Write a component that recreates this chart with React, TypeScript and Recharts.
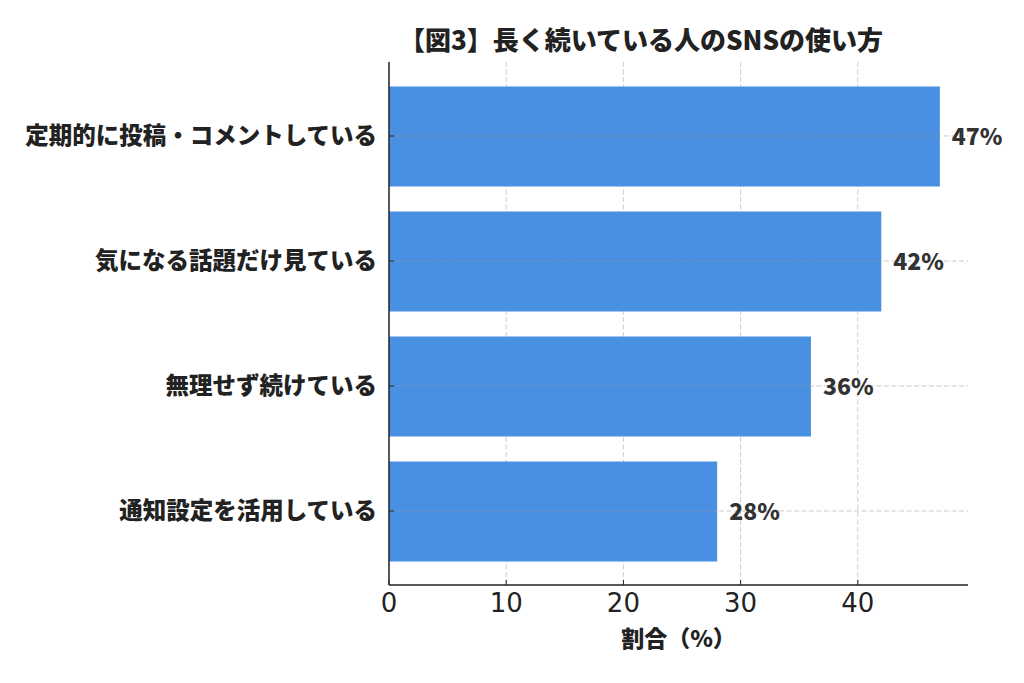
import React from "react";
import {
  BarChart,
  Bar,
  XAxis,
  YAxis,
  CartesianGrid,
  LabelList,
  Label,
  ReferenceLine,
} from "recharts";

const categories = [
  "定期的に投稿・コメントしている",
  "気になる話題だけ見ている",
  "無理せず続けている",
  "通知設定を活用している",
];
const values = [47, 42, 36, 28];
const xTicks = [0, 10, 20, 30, 40];
const title = "【図3】長く続いている人のSNSの使い方";
const xLabel = "割合（%）";

const data = categories.map((c, i) => ({ name: c, value: values[i] }));

const JP = '"Noto Sans CJK JP", "Noto Sans", sans-serif';
const gridStyle = { stroke: "#999", strokeOpacity: 0.5, strokeDasharray: "5 2.5" };

export default function App() {
  return (
    <div style={{ position: "absolute", left: 0, top: 0, width: 1024, height: 683, background: "#fff" }}>
      <svg
        width={1024}
        height={683}
        style={{ position: "absolute", left: 0, top: 0, pointerEvents: "none" }}
      >
        <text
          x={641}
          y={50}
          textAnchor="middle"
          fontFamily={JP}
          fontWeight={900}
          fontSize={26}
          fill="#222"
        >
          {title}
        </text>
      </svg>
      <div style={{ position: "absolute", left: 0, top: 0 }}>
        <BarChart
          width={1024}
          height={683}
          data={data}
          layout="vertical"
          margin={{ top: 62, right: 56, left: 0, bottom: 0 }}
        >
          <XAxis
            type="number"
            dataKey="value"
            domain={[0, 49.4]}
            ticks={xTicks}
            allowDataOverflow
            height={98}
            axisLine={{ stroke: "#222", strokeWidth: 1.5 }}
            tickLine={{ stroke: "#222" }}
            tickSize={-5}
            tickMargin={14}
            tick={{ fontFamily: "DejaVu Sans", fontSize: 26, fill: "#222" }}
          >
            <Label
              value={xLabel}
              position="insideTop"
              offset={46}
              style={{ fontFamily: JP, fontWeight: 900, fontSize: 23, fill: "#222" }}
            />
          </XAxis>
          <YAxis
            type="category"
            dataKey="name"
            width={389}
            padding={{ top: 11.5, bottom: 11.5 }}
            axisLine={{ stroke: "#222", strokeWidth: 1.5 }}
            tickLine={{ stroke: "#222" }}
            tickSize={-5}
            tickMargin={17}
            interval={0}
            tick={{ fontFamily: JP, fontWeight: 900, fontSize: 23.5, fill: "#222" }}
          />
          <Bar dataKey="value" fill="#4a90e2" barSize={100} isAnimationActive={false}>
            <LabelList
              dataKey="value"
              position="right"
              offset={12}
              formatter={(v: number) => `${v}%`}
              style={{ fontFamily: JP, fontWeight: 900, fontSize: 23, fill: "#333" }}
            />
          </Bar>
          <CartesianGrid horizontal={false} {...gridStyle} verticalValues={xTicks.slice(1)} />
          {categories.map((c) => (
            <ReferenceLine key={c} y={c} {...gridStyle} />
          ))}
        </BarChart>
      </div>
    </div>
  );
}
